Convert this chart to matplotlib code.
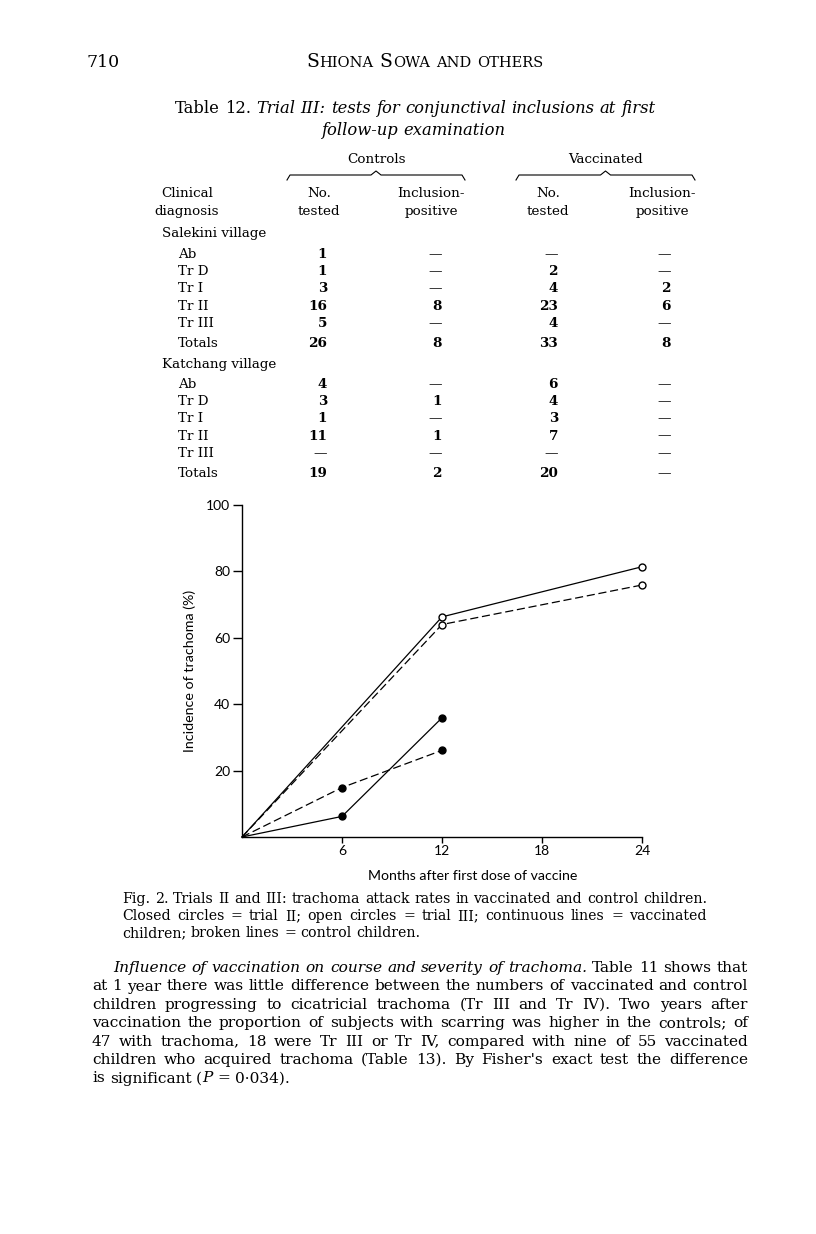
import matplotlib
matplotlib.use("Agg")
import matplotlib.pyplot as plt

W, H = 816, 1234
SERIF = "DejaVu Serif"
SANS = "Lato"

# chart data
trial2_months = [0, 6, 12]
trial2_vacc = [0, 6.2, 35.9]
trial2_ctrl = [0, 14.9, 26.1]
trial3_months = [0, 12, 24]
trial3_vacc = [0, 66.3, 81.4]
trial3_ctrl = [0, 64.0, 75.9]
y_ticks = [20, 40, 60, 80, 100]
x_ticks = [6, 12, 18, 24]

# table 12
diagnoses = ["Ab", "Tr D", "Tr I", "Tr II", "Tr III"]
sal_ctrl_tested = ["1", "1", "3", "16", "5"]
sal_ctrl_pos = ["—", "—", "—", "8", "—"]
sal_vacc_tested = ["—", "2", "4", "23", "4"]
sal_vacc_pos = ["—", "—", "2", "6", "—"]
sal_totals = ["26", "8", "33", "8"]
kat_ctrl_tested = ["4", "3", "1", "11", "—"]
kat_ctrl_pos = ["—", "1", "—", "1", "—"]
kat_vacc_tested = ["6", "4", "3", "7", "—"]
kat_vacc_pos = ["—", "—", "—", "—", "—"]
kat_totals = ["19", "2", "20", "—"]

caption = [
    "Fig. 2. Trials II and III: trachoma attack rates in vaccinated and control children.",
    "Closed circles = trial II; open circles = trial III; continuous lines = vaccinated",
    "children; broken lines = control children.",
]
body = [
    "at 1 year there was little difference between the numbers of vaccinated and control",
    "children progressing to cicatricial trachoma (Tr III and Tr IV). Two years after",
    "vaccination the proportion of subjects with scarring was higher in the controls; of",
    "47 with trachoma, 18 were Tr III or Tr IV, compared with nine of 55 vaccinated",
    "children who acquired trachoma (Table 13). By Fisher's exact test the difference",
]

fig = plt.figure(figsize=(W / 100, H / 100), dpi=100)
bg = fig.add_axes([0, 0, 1, 1])
bg.set_xlim(0, W)
bg.set_ylim(H, 0)
bg.axis("off")
r = fig.canvas.get_renderer()


def put(x, y, s, size, ha="left", style="normal", weight="normal", family=SERIF):
    return bg.text(x, y, s, fontsize=size, ha=ha, va="baseline", style=style,
                   weight=weight, family=family)


def width(t):
    return t.get_window_extent(renderer=r).width


def words(s, style="normal", size=10.5):
    return [[(w, style, size)] for w in s.split()]


def line(y, toks, x0=0, x1=None, center=None, space=None):
    # toks: list of words, each a list of (text, style, size) runs
    pieces = [[put(x0, y, s, sz, style=st) for s, st, sz in w] for w in toks]
    ws = [sum(width(t) for t in ts) for ts in pieces]
    size = toks[0][0][2]
    if x1 is not None:
        gap = (x1 - x0 - sum(ws)) / (len(ws) - 1)
    else:
        gap = space if space is not None else 0.318 * size * 100 / 72
    if center is not None:
        x0 = center - (sum(ws) + gap * (len(ws) - 1)) / 2
    x = x0
    for ts in pieces:
        for t in ts:
            t.set_x(x)
            x += width(t)
        x += gap


# running head
put(87, 67, "710", 12.5)
line(67, [[("S", "normal", 13.5), ("HIONA", "normal", 10.5)],
          [("S", "normal", 13.5), ("OWA", "normal", 10.5)],
          [("AND", "normal", 10.5)], [("OTHERS", "normal", 10.5)]], center=425, space=6)

# table title
tt = 11.8
line(113, [[("Table", "normal", tt)], [("12.", "normal", tt)]]
     + words("Trial III: tests for conjunctival inclusions at first", "italic", tt), center=415)
line(135, words("follow-up examination", "italic", tt), center=413)

ts = 9.7
put(377, 163, "Controls", ts, ha="center")
put(605, 163, "Vaccinated", ts, ha="center")
for xa, xb in [(287, 465), (516, 695)]:
    xm = (xa + xb) / 2
    bg.plot([xa, xa + 3, xm - 5, xm, xm + 5, xb - 3, xb],
            [180, 175, 175, 171, 175, 175, 180], color="black", lw=0.8)

for xc, top, bot in [(187, "Clinical", "diagnosis"), (319, "No.", "tested"),
                     (431, "Inclusion-", "positive"), (548, "No.", "tested"),
                     (662, "Inclusion-", "positive")]:
    put(xc, 197, top, ts, ha="center")
    put(xc, 215, bot, ts, ha="center")

col_right = [327, 442, 558, 671]


def block(y_head, name, y0, cols, totals, y_tot):
    put(162, y_head, name, ts)
    for i, d in enumerate(diagnoses):
        y = y0 + i * 17.2
        put(178, y, d, ts)
        for xr, col in zip(col_right, cols):
            v = col[i]
            put(xr, y, v, ts, ha="right", weight="normal" if v == "—" else "bold")
    put(178, y_tot, "Totals", ts)
    for xr, v in zip(col_right, totals):
        put(xr, y_tot, v, ts, ha="right", weight="normal" if v == "—" else "bold")


block(237, "Salekini village", 258,
      [sal_ctrl_tested, sal_ctrl_pos, sal_vacc_tested, sal_vacc_pos], sal_totals, 347)
block(368, "Katchang village", 388,
      [kat_ctrl_tested, kat_ctrl_pos, kat_vacc_tested, kat_vacc_pos], kat_totals, 477)

# chart
ax = fig.add_axes([242 / W, 1 - 837 / H, 400 / W, 332 / H])
ax.set_xlim(0, 24)
ax.set_ylim(0, 100)
for s in ["top", "right"]:
    ax.spines[s].set_visible(False)
for s in ["left", "bottom"]:
    ax.spines[s].set_linewidth(1.0)
ax.set_yticks(y_ticks)
ax.set_xticks(x_ticks)
ax.tick_params(axis="y", direction="out", length=6.5, width=1.0, pad=2, labelsize=10)
ax.tick_params(axis="x", direction="out", length=4, width=1.0, pad=2, labelsize=10)
for lab in ax.get_xticklabels() + ax.get_yticklabels():
    lab.set_family(SANS)
ax.set_ylabel("Incidence of trachoma (%)", family=SANS, fontsize=10.3, labelpad=7)
ax.patch.set_visible(False)

kw = dict(color="black", lw=0.9, ms=5, mew=1.0, clip_on=False)
ax.plot(trial3_months, trial3_vacc, "-", marker="o", mfc="white", markevery=[1, 2], **kw)
ax.plot(trial3_months, trial3_ctrl, "--", marker="o", mfc="white", markevery=[1, 2],
        dashes=(6.5, 3), **kw)
ax.plot(trial2_months, trial2_vacc, "-", marker="o", mfc="black", markevery=[1, 2], **kw)
ax.plot(trial2_months, trial2_ctrl, "--", marker="o", mfc="black", markevery=[1, 2],
        dashes=(6.5, 3), **kw)
put(473, 880, "Months after first dose of vaccine", 10.2, ha="center", family=SANS)

# caption
cs = 10.2
line(903, words(caption[0], size=cs), 122, 707)
line(920, words(caption[1], size=cs), 122, 707)
line(937, words(caption[2], size=cs), 122)

# body text
bs = 11.1
line(972, words("Influence of vaccination on course and severity of trachoma.", "italic", bs)
     + words("Table 11 shows that", size=bs), 113, 748)
for i, s in enumerate(body):
    line(990.5 + i * 18.4, words(s, size=bs), 92, 748)
line(990.5 + 5 * 18.4, [[("is", "normal", bs)], [("significant", "normal", bs)],
                        [("(", "normal", bs), ("P", "italic", bs)], [("=", "normal", bs)],
                        [("0·034).", "normal", bs)]], 92)

fig.savefig("out.png", dpi=100)
